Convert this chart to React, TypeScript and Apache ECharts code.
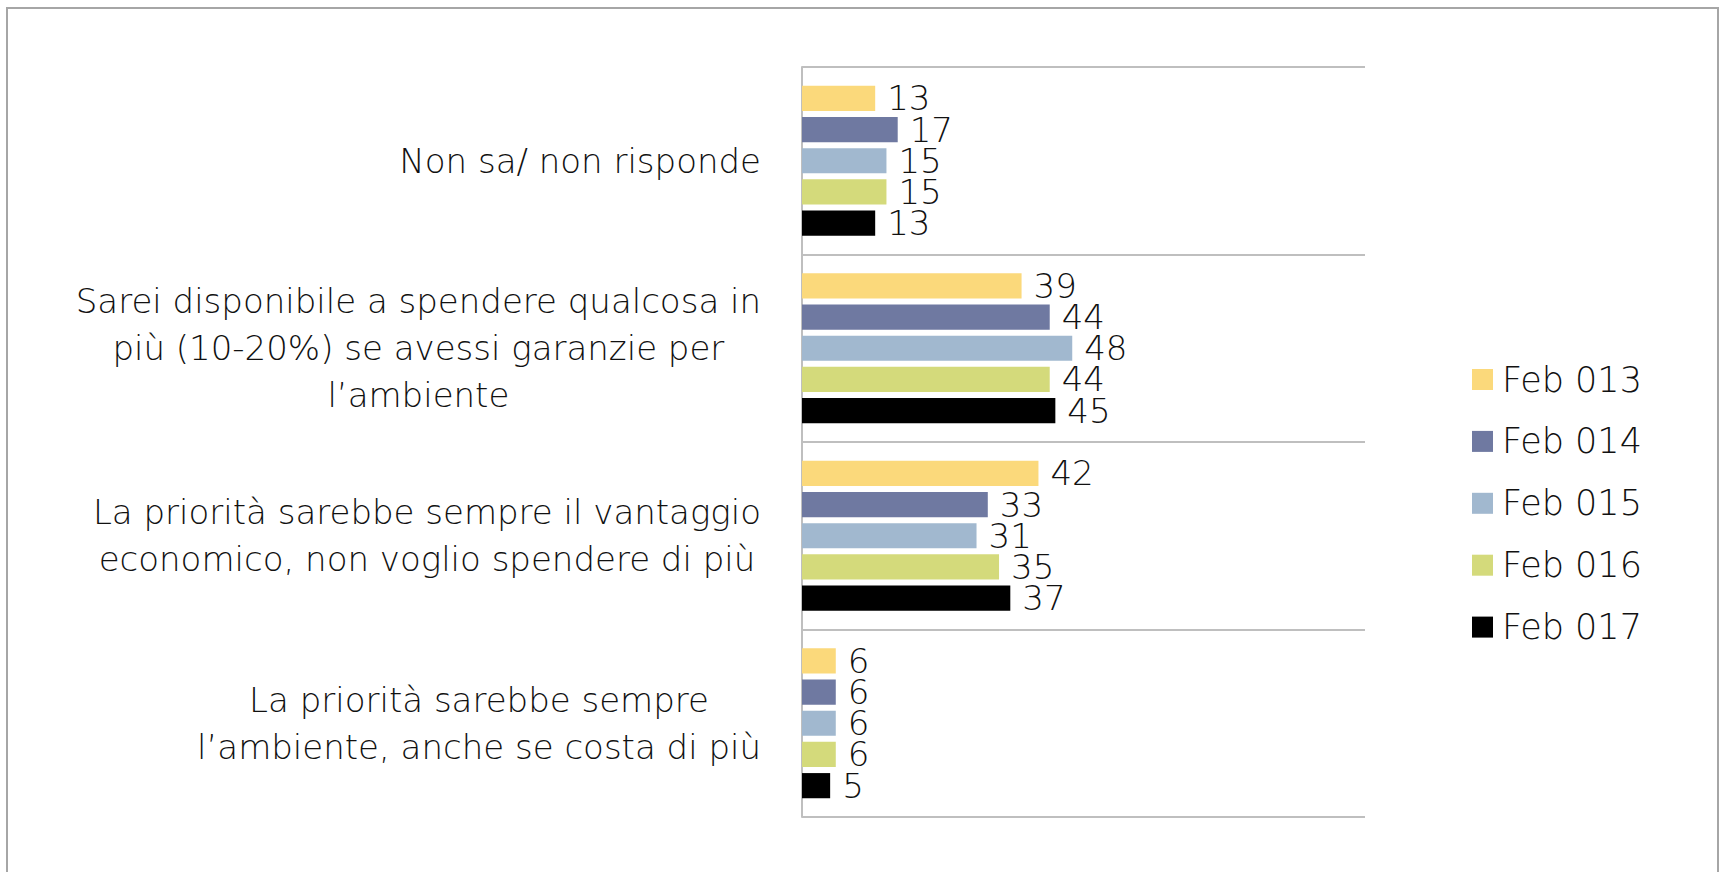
import React, { useEffect, useRef } from "react";
import * as echarts from "echarts";

const categories = [
  "Non sa/ non risponde",
  "Sarei disponibile a spendere qualcosa in\npiù (10-20%) se avessi garanzie per\nl’ambiente",
  "La priorità sarebbe sempre il vantaggio\neconomico, non voglio spendere di più",
  "La priorità sarebbe sempre\nl’ambiente, anche se costa di più",
];
const seriesNames = ["Feb 013", "Feb 014", "Feb 015", "Feb 016", "Feb 017"];
const seriesColors = ["#FBD97B", "#6F79A1", "#A1B8CF", "#D4DA7B", "#000000"];
const feb013 = [13, 39, 42, 6];
const feb014 = [17, 44, 33, 6];
const feb015 = [15, 48, 31, 6];
const feb016 = [15, 44, 35, 6];
const feb017 = [13, 45, 37, 5];
const seriesValues = [feb013, feb014, feb015, feb016, feb017];

const FONT = '"DejaVu Sans", "Open Sans", sans-serif';
const CAT_SIZE = 34;
const LEGEND_SIZE = 35;
const LABEL_SIZE = 34;
const FONT_WEIGHT = 200;
const TEXT_COLOR = "#111111";

function measure(text: string): number {
  const c = document.createElement("canvas").getContext("2d");
  if (!c) return text.length * CAT_SIZE * 0.5;
  c.font = `${FONT_WEIGHT} ${CAT_SIZE}px ${FONT}`;
  return c.measureText(text).width;
}

export default function App() {
  const ref = useRef<HTMLDivElement>(null);
  useEffect(() => {
    if (!ref.current) return;
    const chart = echarts.init(ref.current, undefined, { renderer: "svg" });
    const rich: Record<string, any> = {};
    categories.forEach((cat, i) => {
      const w = Math.max(...cat.split("\n").map(measure)) + 2;
      rich["c" + i] = {
        width: w,
        align: "center",
        fontSize: CAT_SIZE,
        fontFamily: FONT,
        fontWeight: FONT_WEIGHT,
        color: TEXT_COLOR,
        lineHeight: 47,
      };
    });
    chart.setOption({
      animation: false,
      backgroundColor: "#ffffff",
      graphic: [
        {
          type: "rect",
          shape: { x: 7, y: 8, width: 1711, height: 900 },
          style: { fill: "none", stroke: "#a6a6a6", lineWidth: 2 },
          silent: true,
        },
      ],
      grid: { left: 802, top: 67, right: 355, bottom: 55, containLabel: false },
      xAxis: {
        type: "value",
        min: 0,
        max: 100,
        show: false,
      },
      yAxis: {
        type: "category",
        inverse: true,
        data: categories,
        axisLine: { show: true, lineStyle: { color: "#bfbfbf", width: 2 } },
        axisTick: { show: false },
        splitLine: { show: true, lineStyle: { color: "#bfbfbf", width: 2 } },
        axisLabel: {
          margin: 40,
          formatter: (value: string) => {
            const idx = categories.indexOf(value);
            return value
              .split("\n")
              .map((l) => `{c${idx}|${l}}`)
              .join("\n");
          },
          rich,
        },
      },
      legend: {
        orient: "vertical",
        left: 1467,
        top: 357,
        itemWidth: 21,
        itemHeight: 21,
        itemGap: 26.9,
        icon: "rect",
        data: seriesNames,
        textStyle: {
          fontFamily: FONT,
          fontWeight: FONT_WEIGHT,
          fontSize: LEGEND_SIZE,
          lineHeight: 32,
          color: TEXT_COLOR,
          padding: [0, 0, 0, 4],
        },
      },
      series: seriesNames.map((name, i) => ({
        name,
        type: "bar",
        data: seriesValues[i],
        barGap: "24%",
        barCategoryGap: "20%",
        itemStyle: { color: seriesColors[i] },
        label: {
          show: true,
          position: "right",
          distance: 12,
          fontFamily: FONT,
          fontWeight: FONT_WEIGHT,
          fontSize: LABEL_SIZE,
          lineHeight: 28,
          color: TEXT_COLOR,
        },
      })),
    });
    return () => chart.dispose();
  }, []);
  return (
    <div
      ref={ref}
      style={{ position: "absolute", left: 0, top: 0, width: 1720, height: 872 }}
    />
  );
}
